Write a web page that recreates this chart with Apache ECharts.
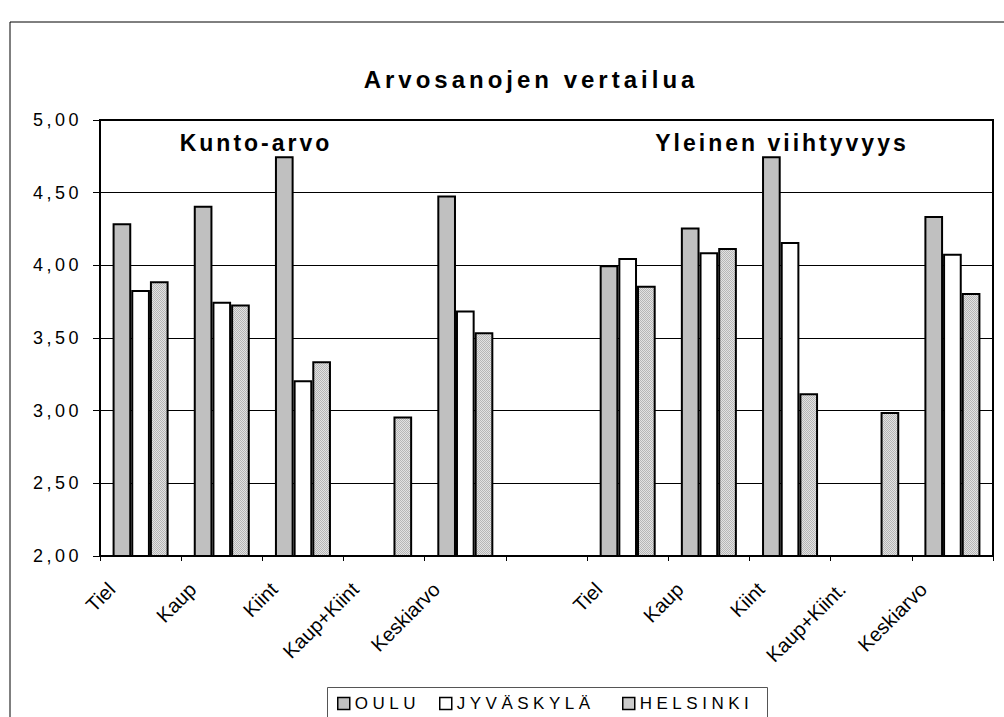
<!DOCTYPE html>
<html lang="fi">
<head>
<meta charset="utf-8">
<title>Arvosanojen vertailua</title>
<script src="https://cdn.jsdelivr.net/npm/echarts@6/dist/echarts.min.js"></script>
<style>
    html, body { margin: 0; padding: 0; background: #fff; }
    #main { width: 1004px; height: 717px; }
    /* Excelin venytetty, harva teksti */
    #main text[style*="24px"] { letter-spacing: 4px; }
    #main text[style*="23px"] { letter-spacing: 3px; }
    #main text[style*="18px"] { letter-spacing: 3.5px; }
    #main text[style*="17px"] { letter-spacing: 4.5px; }
</style>
</head>
<body>
<div id="main"></div>
<script>
    // kategoriat: Kunto-arvo (5) + tyhjä väli + Yleinen viihtyvyys (5)
    var categories = ['Tiel', 'Kaup', 'Kiint', 'Kaup+Kiint', 'Keskiarvo', '',
        'Tiel', 'Kaup', 'Kiint', 'Kaup+Kiint.', 'Keskiarvo'];
    var seriesNames = ['OULU', 'JYVÄSKYLÄ', 'HELSINKI'];
    var oulu      = [4.29, 4.41, 4.75, '-', 4.48, '-', 4.00, 4.26, 4.75, '-', 4.34];
    var jyvaskyla = [3.83, 3.75, 3.21, '-', 3.69, '-', 4.05, 4.09, 4.16, '-', 4.08];
    var helsinki  = [3.89, 3.73, 3.34, 2.96, 3.54, '-', 3.86, 4.12, 3.12, 2.99, 3.81];

    // pisterasteri Helsingin palkeille
    var cv = document.createElement('canvas');
    cv.width = 2; cv.height = 2;
    var cx = cv.getContext('2d');
    cx.fillStyle = '#e2e2e2';
    cx.fillRect(0, 0, 2, 2);
    cx.fillStyle = '#b6b6b6';
    cx.fillRect(0, 0, 1, 1);
    cx.fillRect(1, 1, 1, 1);
    var helsinkiFill = { image: cv.toDataURL(), repeat: 'repeat', imageWidth: 2, imageHeight: 2 };

    function bar(name, data, fill) {
        return {
            name: name,
            type: 'bar',
            data: data,
            barGap: '0%',
            barCategoryGap: '31%',
            itemStyle: { color: fill, borderColor: '#000', borderWidth: 2 },
            emphasis: { disabled: true }
        };
    }

    // selite: yksi komponentti per sarja, jotta harva teksti ei mene päällekkäin
    var legendX = [337, 439, 622];
    function legendItem(i) {
        return {
            left: legendX[i],
            top: 695,
            padding: 0,
            itemWidth: 12,
            itemHeight: 12,
            itemGap: 6,
            icon: 'rect',
            itemStyle: { borderColor: '#000', borderWidth: 1.5 },
            data: [seriesNames[i]],
            textStyle: { fontSize: 17, color: '#000' }
        };
    }

    var myChart = echarts.init(document.getElementById('main'), null, { renderer: 'svg' });

    var option = {
        animation: false,
        backgroundColor: '#fff',
        textStyle: { fontFamily: 'Arial, "Liberation Sans", sans-serif', color: '#000' },
        title: [
            {
                text: 'Arvosanojen vertailua', left: 526, top: 62, textAlign: 'center',
                textStyle: { fontSize: 24, fontWeight: 'bold', color: '#000' }
            },
            {
                text: 'Kunto-arvo', left: 251, top: 126, textAlign: 'center',
                textStyle: { fontSize: 23, fontWeight: 'bold', color: '#000' }
            },
            {
                text: 'Yleinen viihtyvyys', left: 777, top: 126, textAlign: 'center',
                textStyle: { fontSize: 23, fontWeight: 'bold', color: '#000' }
            }
        ],
        graphic: [
            {
                type: 'rect',
                shape: { x: 10, y: 22, width: 1100, height: 800 },
                style: { fill: 'none', stroke: '#000', lineWidth: 1 },
                silent: true
            },
            {
                type: 'rect',
                shape: { x: 327.5, y: 687.5, width: 440, height: 60 },
                style: { fill: 'none', stroke: '#555', lineWidth: 1 },
                silent: true
            }
        ],
        legend: [legendItem(0), legendItem(1), legendItem(2)],
        grid: {
            left: 100, top: 120, right: 11, bottom: 161,
            show: true, borderColor: '#000', borderWidth: 2
        },
        xAxis: {
            type: 'category',
            data: categories,
            axisLine: { lineStyle: { color: '#000', width: 2 } },
            axisTick: { show: true, interval: 0, length: 5, lineStyle: { color: '#000' } },
            axisLabel: {
                interval: 0, rotate: 45, fontSize: 20, color: '#000',
                margin: 1, padding: [0, 41, 0, 0]
            }
        },
        yAxis: {
            type: 'value',
            min: 2,
            max: 5,
            interval: 0.5,
            axisLine: { show: true, lineStyle: { color: '#000', width: 2 } },
            axisTick: { show: true, length: 7, lineStyle: { color: '#000' } },
            axisLabel: {
                fontSize: 18, color: '#000', margin: 18,
                formatter: function (v) { return v.toFixed(2).replace('.', ','); }
            },
            splitLine: { lineStyle: { color: '#000', width: 1 } }
        },
        series: [
            bar(seriesNames[0], oulu, '#c0c0c0'),
            bar(seriesNames[1], jyvaskyla, '#fff'),
            bar(seriesNames[2], helsinki, helsinkiFill)
        ]
    };
    myChart.setOption(option);
</script>
</body>
</html>
